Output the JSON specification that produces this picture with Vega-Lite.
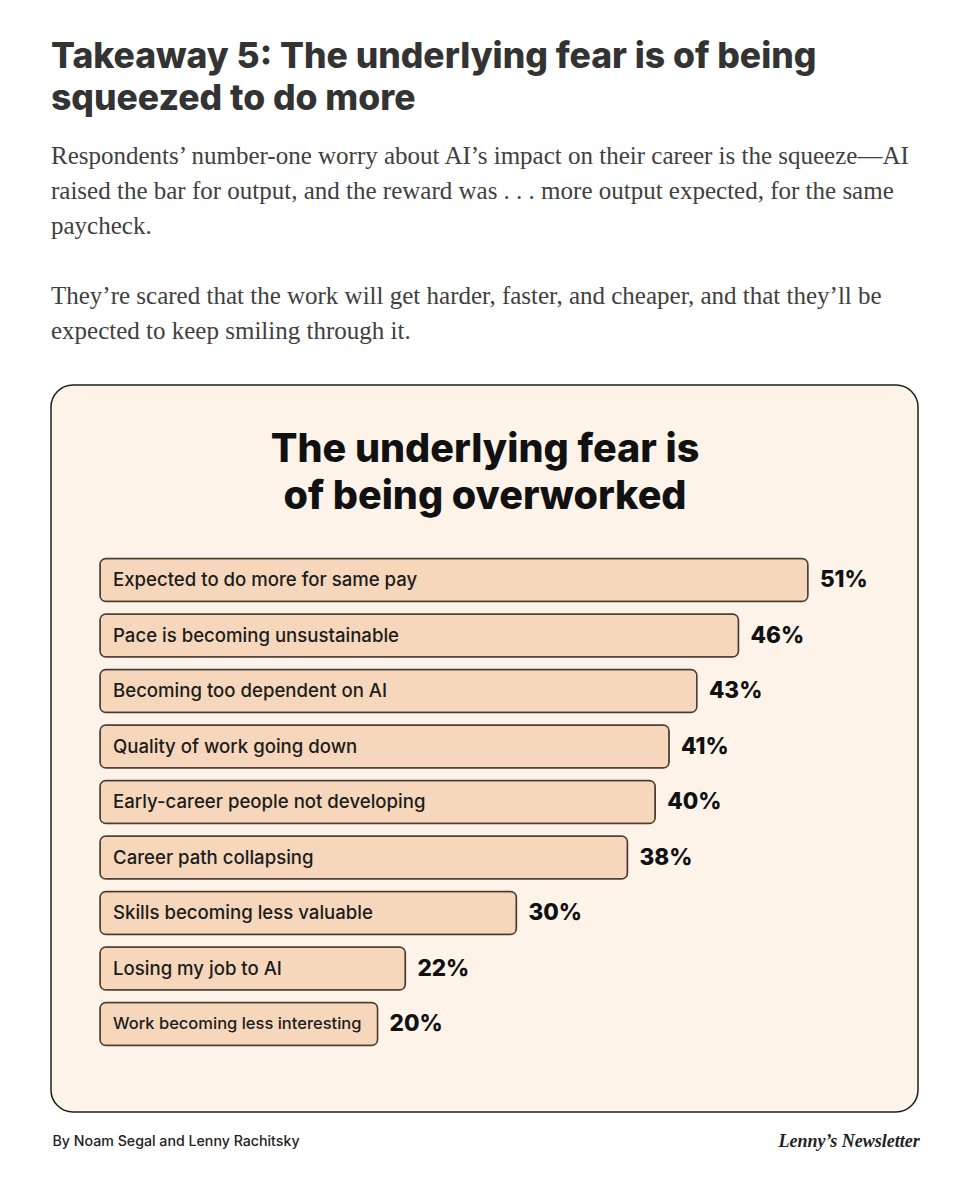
{
  "$schema": "https://vega.github.io/schema/vega-lite/v6.json",
  "width": 867,
  "height": 727,
  "autosize": {"type": "none"},
  "padding": {"left": 51, "top": 385, "right": 46, "bottom": 87},
  "background": "#ffffff",
  "config": {
    "view": {"fill": "#fdf3e9", "stroke": "#1e1e1e", "strokeWidth": 1.5, "cornerRadius": 22},
    "font": "Inter"
  },
  "title": {
    "text": ["Takeaway 5: The underlying fear is of being", "squeezed to do more"],
    "subtitle": [
      "Respondents’ number-one worry about AI’s impact on their career is the squeeze—AI",
      "raised the bar for output, and the reward was . . . more output expected, for the same",
      "paycheck.",
      "\u200b",
      "They’re scared that the work will get harder, faster, and cheaper, and that they’ll be",
      "expected to keep smiling through it."
    ],
    "anchor": "start",
    "frame": "group",
    "font": "Inter",
    "fontSize": 35.5,
    "fontWeight": 800,
    "color": "#333333",
    "lineHeight": 42,
    "subtitleFont": "Liberation Serif",
    "subtitleFontSize": 25,
    "subtitleColor": "#404040",
    "subtitleLineHeight": 35,
    "subtitlePadding": 27,
    "offset": 41
  },
  "data": {
    "values": [
      {"label": "Expected to do more for same pay", "share": 0.51},
      {"label": "Pace is becoming unsustainable", "share": 0.46},
      {"label": "Becoming too dependent on AI", "share": 0.43},
      {"label": "Quality of work going down", "share": 0.41},
      {"label": "Early-career people not developing", "share": 0.40},
      {"label": "Career path collapsing", "share": 0.38},
      {"label": "Skills becoming less valuable", "share": 0.30},
      {"label": "Losing my job to AI", "share": 0.22},
      {"label": "Work becoming less interesting", "share": 0.20}
    ]
  },
  "resolve": {"axis": {"x": "independent"}},
  "layer": [
    {
      "mark": {"type": "bar", "fill": "#f6d7bb", "stroke": "#4a3b32", "strokeWidth": 1.5, "cornerRadius": 6},
      "encoding": {
        "y": {
          "field": "label", "type": "nominal", "sort": null,
          "scale": {"range": [167.25, 666.75], "paddingInner": 0.225, "paddingOuter": 0.1125},
          "axis": {
            "title": "Lenny’s Newsletter", "labels": false, "ticks": false, "domain": false, "grid": false,
            "titleAngle": 0, "titleX": 727, "titleY": 756, "titleAlign": "left", "titleBaseline": "middle",
            "titleFont": "Liberation Serif", "titleFontStyle": "italic", "titleFontWeight": "bold",
            "titleFontSize": 18, "titleColor": "#222222"
          }
        },
        "x": {
          "field": "share", "type": "quantitative",
          "scale": {"domain": [-0.0353, 0.5893], "nice": false, "zero": false},
          "axis": {
            "orient": "top", "title": ["The underlying fear is", "of being overworked"],
            "labels": false, "ticks": false, "domain": false, "grid": false,
            "titleFont": "Inter", "titleFontSize": 39.5, "titleFontWeight": 800, "titleColor": "#111111",
            "titleLineHeight": 47, "titleX": 433.5, "titleY": 64, "titleAlign": "center", "titleBaseline": "middle"
          }
        }
      }
    },
    {
      "mark": {"type": "text", "align": "left", "baseline": "middle", "dx": 13, "font": "Inter", "fontWeight": 500, "color": "#1c1c1c"},
      "encoding": {
        "y": {"field": "label", "type": "nominal", "sort": null},
        "x": {
          "datum": 0, "type": "quantitative",
          "axis": {
            "orient": "bottom", "title": "By Noam Segal and Lenny Rachitsky",
            "labels": false, "ticks": false, "domain": false, "grid": false,
            "titleFont": "Inter", "titleFontSize": 14.2, "titleFontWeight": 500, "titleColor": "#222222",
            "titleX": 1, "titleY": 29, "titleAlign": "left", "titleBaseline": "middle", "titleAnchor": "start"
          }
        },
        "size": {
          "condition": {"test": "datum.label === 'Work becoming less interesting'", "value": 16.5},
          "value": 18.6
        },
        "text": {"field": "label", "type": "nominal"}
      }
    },
    {
      "mark": {"type": "text", "align": "left", "baseline": "middle", "dx": 12, "font": "Inter", "fontSize": 22.5, "fontWeight": 800, "color": "#111111"},
      "encoding": {
        "y": {"field": "label", "type": "nominal", "sort": null},
        "x": {"field": "share", "type": "quantitative", "axis": null},
        "text": {"field": "share", "type": "quantitative", "format": ".0%"}
      }
    }
  ]
}
